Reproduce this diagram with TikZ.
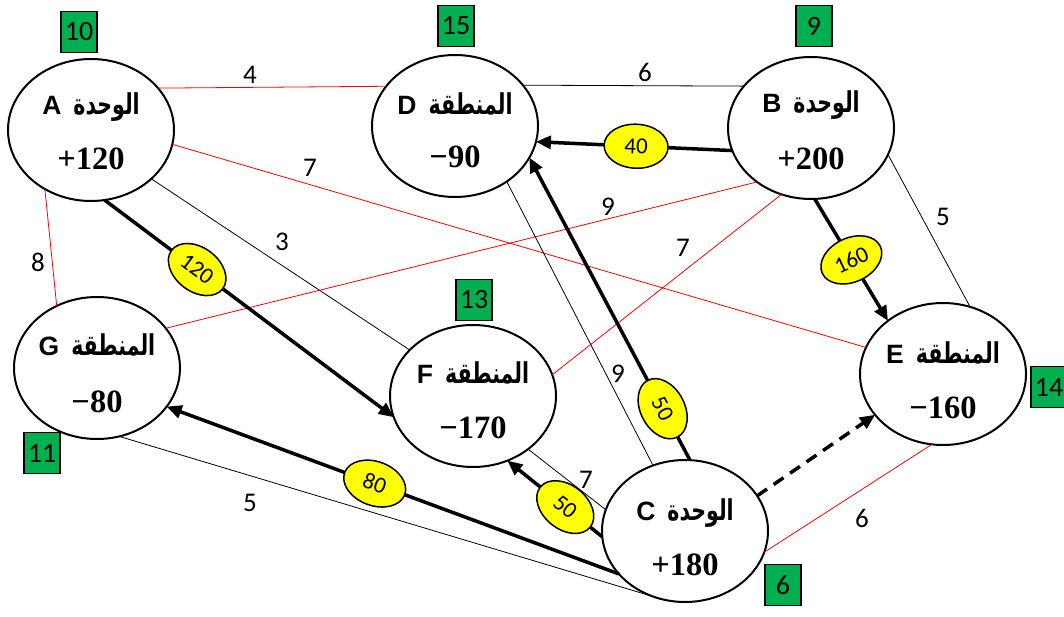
\documentclass[tikz,border=0pt]{standalone}
\usepackage{graphicx}
\usepackage{fontspec}
\setmainfont{Liberation Serif}
\newfontfamily\arabicfont[Script=Arabic]{DejaVu Sans}
\newfontfamily\lsans{Liberation Sans}
\newfontfamily\calf{Carlito}
\TeXXeTstate=1
\usetikzlibrary{shapes.geometric,arrows.meta}
\definecolor{boxgreen}{HTML}{00B050}
\definecolor{labyellow}{HTML}{FFFF00}
\newcommand{\toprowtext}[2]{{\lsans\bfseries\fontsize{26.5}{26.5}\selectfont #1}\hspace{12pt}\scalebox{1}[1.4]{\arabicfont\bfseries\fontsize{20.5}{20.5}\selectfont\beginR #2\endR}}
\begin{document}
\begin{tikzpicture}[x=1pt,y=-1pt,
  unit/.style={ellipse, draw, line width=2pt, fill=white, minimum width=166, minimum height=142, inner sep=0, outer sep=0},
  rowtop/.style={anchor=base, inner sep=0},
  rownum/.style={anchor=base, inner sep=0, font=\bfseries\fontsize{32.5}{32.5}\selectfont},
  blk/.style={line width=0.8pt, draw=black},
  redl/.style={line width=0.8pt, draw=red},
  flow/.style={line width=3.5pt, -{Triangle[length=15pt,width=13pt]}},
  flab/.style={ellipse, draw, fill=labyellow, line width=1.5pt, minimum width=64, minimum height=44, inner sep=0, font=\calf\fontsize{23}{23}\selectfont},
  wlab/.style={inner sep=0, font=\calf\fontsize{27}{27}\selectfont},
  gbox/.style={draw, line width=1.5pt, fill=boxgreen, minimum width=36, minimum height=41, inner sep=0, font=\calf\fontsize{28}{28}\selectfont}
]
\useasboundingbox (0,0) rectangle (1064,617);
\fill[white] (0,0) rectangle (1064,617);

% units / regions
\node[unit] (A) at (91,130) {};
\node[unit] (D) at (455,126) {};
\node[unit] (B) at (811,128) {};
\node[unit] (G) at (97,368) {};
\node[unit] (F) at (473,396) {};
\node[unit] (E) at (943,374) {};
\node[unit] (C) at (685,531) {};

% thin edges
\draw[redl] (A.32) -- (D.150);
\draw[blk] (D.31) -- (B.148);
\draw[redl] (A.-10) -- (E.161);
\draw[blk] (A.-39) -- (F.144);
\draw[redl] (A.-128) -- (G.123);
\draw[redl] (B.225) -- (G.30);
\draw[redl] (B.246) -- (F.15);
\draw[blk] (B.-19) -- (E.68);
\draw[blk] (D.-47) -- (C.116);
\draw[blk] (F.-44) -- (C.165);
\draw[blk] (G.-72) -- (C.244);
\draw[redl] (E.-99) -- (C.-15);

% flows
\draw[flow] (B.196) -- node[flab, sloped, pos=0.49] (l40) {40} (D.-11);
\draw[flow] (A.-79) -- node[flab, sloped, pos=0.32] (l120) {120} (F.195);
\draw[flow] (B.-87) -- node[flab, rotate=25, pos=0.5] (l160) {160} (E.136);
\draw[flow] (C.86) -- node[flab, sloped, pos=0.17] (l50a) {50} (D.-23);
\draw[flow] (C.184) -- node[flab, sloped, pos=0.39] (l50b) {50} (F.-62);
\draw[flow] (C.213) -- node[flab, sloped, pos=0.54] (l80) {80} (G.-29);
\draw[flow, dash pattern=on 12pt off 8pt] (C.26) -- (E.211);

% texts in the ellipses
\node[rowtop] (At) at (91,115) {\toprowtext{A}{الوحدة}};
\node[rownum] (An) at (91,170) {+120};
\node[rowtop] (Dt) at (455,115) {\toprowtext{D}{المنطقة}};
\node[rownum] (Dn) at (455,168) {−90};
\node[rowtop] (Bt) at (811,113) {\toprowtext{B}{الوحدة}};
\node[rownum] (Bn) at (811,170) {+200};
\node[rowtop] (Gt) at (97,355) {\toprowtext{G}{المنطقة}};
\node[rownum] (Gn) at (97,412) {−80};
\node[rowtop] (Ft) at (473,383) {\toprowtext{F}{المنطقة}};
\node[rownum] (Fn) at (473,438) {−170};
\node[rowtop] (Et) at (943,363) {\toprowtext{E}{المنطقة}};
\node[rownum] (En) at (943,418) {−160};
\node[rowtop] (Ct) at (685,520) {\toprowtext{C}{الوحدة}};
\node[rownum] (Cn) at (685,575) {+180};

% green boxes
\node[gbox] (gA) at (79,32) {10};
\node[gbox] (gD) at (456,26) {15};
\node[gbox] (gB) at (814,26) {9};
\node[gbox] (gG) at (42,453) {11};
\node[gbox] (gF) at (474,300) {13};
\node[gbox] (gE) at (1049,387) {14};
\node[gbox] (gC) at (783,585) {6};

% edge weights
\node[wlab] (w1) at (250,75) {4};
\node[wlab] (w2) at (645,72) {6};
\node[wlab] (w3) at (310,168) {7};
\node[wlab] (w4) at (282,242) {3};
\node[wlab] (w5) at (38,262) {8};
\node[wlab] (w6) at (608,207) {9};
\node[wlab] (w7) at (683,248) {7};
\node[wlab] (w8) at (943,217) {5};
\node[wlab] (w9) at (618,374) {9};
\node[wlab] (w10) at (586,480) {7};
\node[wlab] (w11) at (250,503) {5};
\node[wlab] (w12) at (862,518) {6};
\end{tikzpicture}
\end{document}
